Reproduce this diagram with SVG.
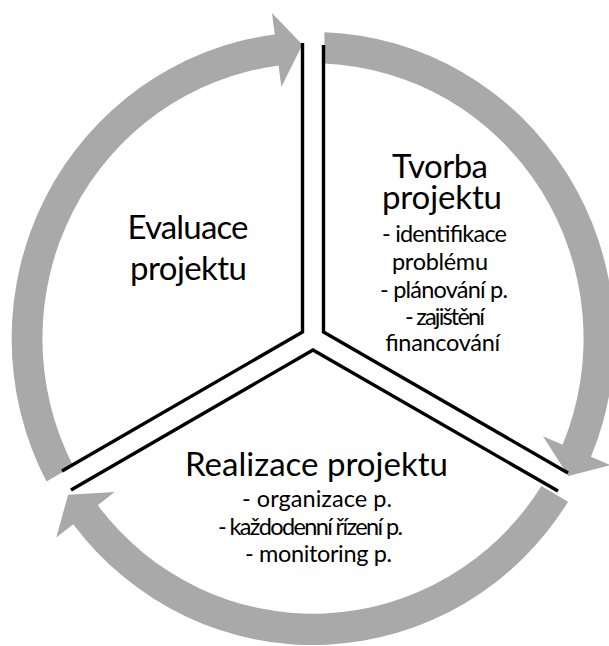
<svg xmlns="http://www.w3.org/2000/svg" xmlns:xlink="http://www.w3.org/1999/xlink" width="609" height="646" viewBox="0 0 609 646">
<style>
.arr{fill:#A9A9A9;stroke:none}
.div{fill:none;stroke:#000;stroke-width:3.4;stroke-linejoin:miter}
.big{font-family:Lato,"Open Sans",sans-serif;font-size:33px;fill:#000;text-anchor:middle}
.small{font-family:Lato,"Open Sans",sans-serif;font-size:23.5px;fill:#000;text-anchor:middle}
</style>
<defs>
<path id="arc" class="arr" d="M11.5,-303.28 A303.5,303.5 0 0 1 279.98,117.12 L299.81,125.42 L257.2,136.2 L231.55,96.86 L251.38,105.16 A272.5,272.5 0 0 0 11.5,-272.26 Z"/>
</defs>
<rect width="609" height="646" fill="#fff"/>
<g id="arrows" transform="translate(313,338.5) scale(0.993,1.01)">
<use xlink:href="#arc" href="#arc" transform="rotate(240)"/>
<use xlink:href="#arc" href="#arc"/>
<use xlink:href="#arc" href="#arc" transform="rotate(120)"/>
</g>
<g id="connectors">
<polyline class="div" points="302.5,43 302.5,332 62,471"/>
<polyline class="div" points="323.5,45 323.5,332 568,473"/>
<polyline class="div" points="71,490 313,350 558,491"/>
</g>
<g id="evaluace">
<text class="big" x="188" y="239" textLength="121">Evaluace</text>
<text class="big" x="188.5" y="280" textLength="117">projektu</text>
</g>
<g id="tvorba">
<text class="big" x="440" y="178" textLength="96">Tvorba</text>
<text class="big" x="442" y="209" textLength="120">projektu</text>
<text class="small" x="444.5" y="242" textLength="125">- identifikace</text>
<text class="small" x="440" y="270" textLength="96">problému</text>
<text class="small" x="444" y="298" textLength="128">- plánování p.</text>
<text class="small" x="445" y="325" textLength="80">- zajištění</text>
<text class="small" x="442.5" y="350.5" textLength="115">financování</text>
</g>
<g id="realizace">
<text class="big" x="316.5" y="476" textLength="263">Realizace projektu</text>
<text class="small" x="317" y="507" textLength="150">- organizace p.</text>
<text class="small" x="310.5" y="535" textLength="185">- každodenní řízení p.</text>
<text class="small" x="318.5" y="562" textLength="147">- monitoring p.</text>
</g>
</svg>
